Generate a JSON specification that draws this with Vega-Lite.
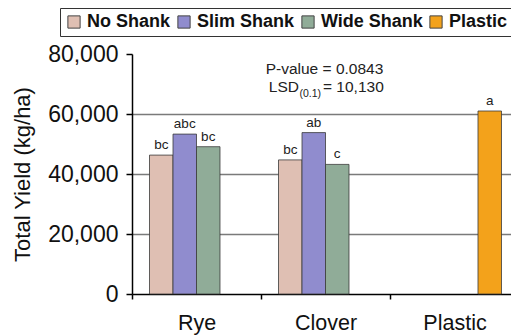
{
  "$schema": "https://vega.github.io/schema/vega-lite/v6.json",
  "autosize": {"type": "none"},
  "width": 379,
  "height": 240,
  "padding": {"left": 132, "top": 54, "right": 0, "bottom": 41},
  "background": "white",
  "config": {
    "font": "Liberation Sans",
    "view": {"stroke": null},
    "axis": {"labelFont": "Liberation Sans", "titleFont": "Liberation Sans"}
  },
  "datasets": {
    "bars": [
      {"crop": "Rye", "trt": "No Shank", "yield": 46300, "grp": "bc"},
      {"crop": "Rye", "trt": "Slim Shank", "yield": 53300, "grp": "abc"},
      {"crop": "Rye", "trt": "Wide Shank", "yield": 49100, "grp": "bc"},
      {"crop": "Clover", "trt": "No Shank", "yield": 44700, "grp": "bc"},
      {"crop": "Clover", "trt": "Slim Shank", "yield": 53800, "grp": "ab"},
      {"crop": "Clover", "trt": "Wide Shank", "yield": 43200, "grp": "c"},
      {"crop": "Plastic", "trt": "Plastic", "yield": 61000, "grp": "a"}
    ],
    "notes": [
      {"crop": "Clover", "yv": 73500, "label": "P-value = 0.0843", "part": "p"},
      {"crop": "Clover", "yv": 67200, "label": "LSD", "part": "lsd"},
      {"crop": "Clover", "yv": 67200, "label": "(0.1)", "part": "sub"},
      {"crop": "Clover", "yv": 67200, "label": "= 10,130", "part": "val"}
    ]
  },
  "layer": [
    {
      "data": {"name": "bars"},
      "mark": {"type": "bar", "stroke": "#3a3a3a", "strokeWidth": 0.8},
      "encoding": {
        "x": {
          "field": "crop", "type": "nominal",
          "scale": {"domain": ["Rye", "Clover", "Plastic"], "range": [0, 387], "paddingInner": 0, "paddingOuter": 0},
          "axis": {
            "title": null,
            "labelAngle": 0,
            "labelFontSize": 21.5,
            "labelColor": "#111",
            "labelPadding": 13,
            "tickBand": "extent",
            "tickSize": 5,
            "tickColor": "#000",
            "tickWidth": 1.5,
            "domainColor": "#000",
            "domainWidth": 1.5
          }
        },
        "xOffset": {
          "field": "trt", "type": "nominal",
          "scale": {"domain": ["No Shank", "Slim Shank", "Wide Shank", "Plastic"], "paddingInner": 0, "paddingOuter": 0.745}
        },
        "y": {
          "field": "yield", "type": "quantitative",
          "scale": {"domain": [0, 80000], "nice": false},
          "axis": {
            "title": "Total Yield (kg/ha)",
            "titleFontSize": 22,
            "titleFontWeight": "normal",
            "titleColor": "#111",
            "titlePadding": 13,
            "values": [0, 20000, 40000, 60000, 80000],
            "format": ",d",
            "labelFontSize": 23,
            "labelColor": "#111",
            "labelPadding": 8,
            "tickSize": 6,
            "tickColor": "#000",
            "tickWidth": 1.5,
            "domainColor": "#000",
            "domainWidth": 1.5,
            "grid": true,
            "gridColor": "#7a7a7a",
            "gridWidth": 1.5,
            "gridOpacity": {"condition": {"test": "datum.value == 0 || datum.value == 80000", "value": 0}, "value": 1}
          }
        },
        "color": {
          "field": "trt", "type": "nominal",
          "scale": {
            "domain": ["No Shank", "Slim Shank", "Wide Shank", "Plastic"],
            "range": ["#dfbfb3", "#908cce", "#90ac98", "#f3a21b"]
          },
          "legend": {
            "title": null,
            "orient": "none",
            "direction": "horizontal",
            "legendX": -72,
            "legendY": -46,
            "padding": 5,
            "strokeColor": "#333",
            "fillColor": "white",
            "symbolType": "square",
            "symbolSize": 150,
            "symbolStrokeColor": "#444",
            "symbolStrokeWidth": 1,
            "labelFontSize": 18,
            "labelFontWeight": "bold",
            "labelColor": "#111",
            "labelOffset": 4,
            "columnPadding": 4,
            "labelLimit": 300
          }
        }
      }
    },
    {
      "data": {"name": "bars"},
      "mark": {"type": "text", "baseline": "alphabetic", "dy": -6, "fontSize": 13.5, "color": "#222"},
      "encoding": {
        "x": {"field": "crop", "type": "nominal"},
        "xOffset": {"field": "trt", "type": "nominal"},
        "y": {"field": "yield", "type": "quantitative"},
        "text": {"field": "grp"}
      }
    },
    {
      "data": {"name": "notes"},
      "transform": [{"filter": "datum.part == 'p'"}],
      "mark": {"type": "text", "baseline": "alphabetic", "align": "center", "dx": -1, "fontSize": 15.5, "color": "#222"},
      "encoding": {
        "x": {"field": "crop", "type": "nominal"},
        "y": {"field": "yv", "type": "quantitative"},
        "text": {"field": "label"}
      }
    },
    {
      "data": {"name": "notes"},
      "transform": [{"filter": "datum.part == 'lsd'"}],
      "mark": {"type": "text", "baseline": "alphabetic", "align": "right", "dx": -26.5, "fontSize": 15.5, "color": "#222"},
      "encoding": {
        "x": {"field": "crop", "type": "nominal"},
        "y": {"field": "yv", "type": "quantitative"},
        "text": {"field": "label"}
      }
    },
    {
      "data": {"name": "notes"},
      "transform": [{"filter": "datum.part == 'sub'"}],
      "mark": {"type": "text", "baseline": "alphabetic", "align": "left", "dx": -26, "dy": 5, "fontSize": 10.5, "color": "#222"},
      "encoding": {
        "x": {"field": "crop", "type": "nominal"},
        "y": {"field": "yv", "type": "quantitative"},
        "text": {"field": "label"}
      }
    },
    {
      "data": {"name": "notes"},
      "transform": [{"filter": "datum.part == 'val'"}],
      "mark": {"type": "text", "baseline": "alphabetic", "align": "left", "dx": -2.5, "fontSize": 15.5, "color": "#222"},
      "encoding": {
        "x": {"field": "crop", "type": "nominal"},
        "y": {"field": "yv", "type": "quantitative"},
        "text": {"field": "label"}
      }
    }
  ]
}
